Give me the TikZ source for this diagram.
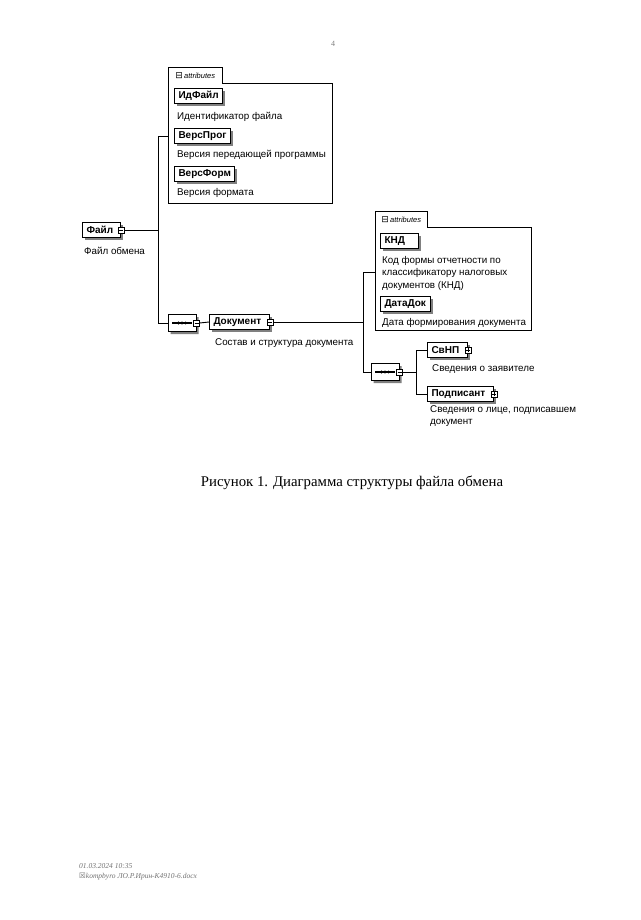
\documentclass[tikz,border=0pt]{standalone}
\usepackage{fontspec}
\setmainfont{Liberation Serif}
\setsansfont{Liberation Sans}
\newfontfamily\symfont{DejaVu Sans}
\usetikzlibrary{positioning,shapes.misc,shadows}

\begin{document}
\begin{tikzpicture}[x=1pt,y=-1pt,font=\sffamily\fontsize{9.8}{12}\selectfont]
\tikzset{elem/.style={draw,line width=1pt,fill=white,font=\sffamily\bfseries\fontsize{10}{11}\selectfont,minimum height=15pt,inner xsep=4pt,inner ysep=1pt,
   general shadow={shadow xshift=2.5pt,shadow yshift=-2.5pt,fill=black!50}},
 desc/.style={anchor=west,inner sep=0pt,font=\sffamily\fontsize{9.8}{12.5}\selectfont},
 expminus/.style={draw,fill=white,minimum size=6pt,inner sep=0pt,
   path picture={\draw ([xshift=1pt]path picture bounding box.west) -- ([xshift=-1pt]path picture bounding box.east);}},
 expplus/.style={draw,fill=white,minimum size=6pt,inner sep=0pt,
   path picture={\draw ([xshift=1pt]path picture bounding box.west) -- ([xshift=-1pt]path picture bounding box.east);
     \draw ([yshift=-1pt]path picture bounding box.north) -- ([yshift=1pt]path picture bounding box.south);}},
 seqbox/.style={chamfered rectangle,chamfered rectangle xsep=3pt,chamfered rectangle ysep=3pt,draw,line width=1pt,fill=white,
   minimum width=28pt,minimum height=17pt,inner sep=0pt,
   general shadow={shadow xshift=2.5pt,shadow yshift=-2.5pt,fill=black!50},
   path picture={\draw[line width=1.2pt] ([xshift=4pt]path picture bounding box.west) -- ([xshift=-4pt]path picture bounding box.east);
     \foreach \d in {-3.6,0,3.6} \fill[black] ([xshift=\d pt]path picture bounding box.center) circle (1.6pt);}},
 grp/.style={anchor=north west,inner sep=0pt},
 tab/.style={anchor=south west,inner xsep=2pt,inner ysep=0pt,minimum height=15pt,font=\sffamily\itshape\fontsize{7.5}{8}\selectfont},
 link/.style={line width=0.9pt},
 frame/.style={line width=0.7pt}}
\fill[white] (0,0) rectangle (640,920);
\useasboundingbox (0,0) rectangle (640,920);
\node[text=black!50,font=\rmfamily\fontsize{8}{9}\selectfont] (pagenum) at (333,44) {4};
% top attributes
\node[grp,minimum width=164pt,minimum height=120pt] (grpA) at (168,83) {};
\node[tab,minimum width=54pt] (tabA) at (grpA.north west) {{\symfont\upshape\fontsize{9}{9}\selectfont ⊟}\,attributes};
\draw[frame] (tabA.north west) -| (tabA.south east) -| (grpA.south east) -| cycle;
\node[elem,anchor=north west] (idfile) at (174,88) {ИдФайл};
\node[desc] (idfiled) at (177,117) {Идентификатор файла};
\node[elem,anchor=north west] (versprog) at (174,128) {ВерсПрог};
\node[desc] (versprogd) at (177,155) {Версия передающей программы};
\node[elem,anchor=north west] (versform) at (174,166) {ВерсФорм};
\node[desc] (versformd) at (177,193) {Версия формата};
% root
\node[elem,anchor=west,inner xsep=4pt,text width=30pt] (file) at (82,230) {Файл};
\node[expminus] (fileexp) at (file.east) {};
\node[desc] (filed) at (84,251) {Файл обмена};
\coordinate (trA) at (158,136);
\draw[link] (fileexp.east) -- (fileexp.east -| trA);
% sequence 1
\node[seqbox] (seqA) at (182,323) {};
\node[expminus] (seqAexp) at (seqA.east) {};
\node[elem,anchor=west,text width=52pt] (doc) at (209,322) {Документ};
\node[expminus] (docexp) at (doc.east) {};
\node[desc] (docd) at (215,343) {Состав и структура документа};
\draw[link] (grpA.west |- trA) -- (trA) |- (seqA.west);
\draw[link] (seqAexp.east) -- (doc.west);
% document attributes
\node[grp,minimum width=156pt,minimum height=103pt] (grpB) at (375,227) {};
\node[tab,minimum width=52pt] (tabB) at (grpB.north west) {{\symfont\upshape\fontsize{9}{9}\selectfont ⊟}\,attributes};
\draw[frame] (tabB.north west) -| (tabB.south east) -| (grpB.south east) -| cycle;
\node[elem,anchor=north west,text width=30pt] (knd) at (380,233) {КНД};
\node[desc,anchor=north west,align=left] (kndd) at (382,256) {Код формы отчетности по\\классификатору налоговых\\документов (КНД)};
\node[elem,anchor=north west] (datadok) at (380,296) {ДатаДок};
\node[desc] (datadokd) at (382,323) {Дата формирования документа};
\coordinate (trB) at (363,272);
\draw[link] (docexp.east) -- (docexp.east -| trB);
% sequence 2
\node[seqbox] (seqB) at (385,372) {};
\node[expminus] (seqBexp) at (seqB.east) {};
\draw[link] (grpB.west |- trB) -- (trB) |- (seqB.west);
\node[elem,anchor=west,text width=32pt] (svnp) at (427,350) {СвНП};
\node[expplus] (svnpexp) at (svnp.east) {};
\node[desc] (svnpd) at (432,369) {Сведения о заявителе};
\node[elem,anchor=west,text width=58pt] (podp) at (427,394) {Подписант};
\node[expplus] (podpexp) at (podp.east) {};
\node[desc,anchor=north west,align=left] (podpd) at (430,405) {Сведения о лице, подписавшем\\документ};
\coordinate (brB) at (416,350);
\draw[link] (svnp.west) -| (brB |- podp.west) -- (podp.west);
\draw[link] (seqBexp.east) -- (seqBexp.east -| brB);
% caption and footer
\node[font=\rmfamily\fontsize{14.8}{16}\selectfont] (caption) at (352,483) {Рисунок 1. Диаграмма структуры файла обмена};
\node[anchor=west,inner sep=0pt,text=black!55,font=\rmfamily\itshape\fontsize{7.5}{9}\selectfont] (stamp) at (79,866) {01.03.2024 10:35};
\node[anchor=west,inner sep=0pt,text=black!55,font=\rmfamily\itshape\fontsize{7.5}{9}\selectfont] (fname) at (79,877) {{\symfont\upshape ☒}kompbyro ЛО.Р.Ирин-К4910-6.docx};
\end{tikzpicture}
\end{document}
